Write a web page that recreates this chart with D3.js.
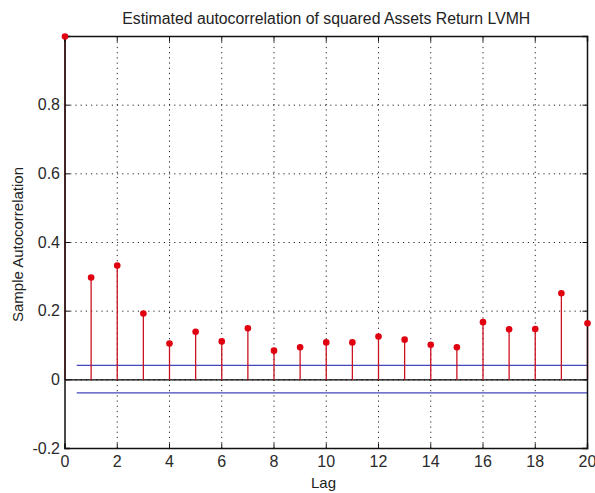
<!DOCTYPE html>
<html>
<head>
<meta charset="utf-8">
<script src="https://cdn.jsdelivr.net/npm/d3@7"></script>
<style>
  body { margin: 0; background: #fff; }
  text { font-family: "Liberation Sans", Arial, sans-serif; fill: #222; }
</style>
</head>
<body>
<div id="chart"></div>
<script>
// lags and sample autocorrelation values
var lags = [0, 1, 2, 3, 4, 5, 6, 7, 8, 9, 10, 11, 12, 13, 14, 15, 16, 17, 18, 19, 20];
var acf = [1, 0.298, 0.333, 0.193, 0.106, 0.140, 0.112, 0.150, 0.085, 0.095, 0.109,
           0.109, 0.126, 0.117, 0.102, 0.095, 0.168, 0.147, 0.148, 0.252, 0.165];
var bounds = [0.042, -0.038];
var boundsLag = [0.45, 20];
var xTickValues = [0, 2, 4, 6, 8, 10, 12, 14, 16, 18, 20];
var yTickValues = [-0.2, 0, 0.2, 0.4, 0.6, 0.8];

var width = 595, height = 493;
// plot box edges (note: "top" is reserved by window, so use plot* names)
var plotLeft = 65, plotRight = 587.5, plotTop = 36.5, plotBottom = 448.5;

var svg = d3.select("#chart").append("svg")
    .attr("width", width)
    .attr("height", height);

var x = d3.scaleLinear().domain([0, 20]).range([plotLeft, plotRight]);
var y = d3.scaleLinear().domain([-0.2, 1]).range([plotBottom, plotTop]);

// dotted grid
var grid = svg.append("g");
grid.selectAll(".gx")
    .data(xTickValues.filter(d => d > 0 && d < 20))
    .enter().append("line")
        .attr("x1", d => x(d)).attr("x2", d => x(d))
        .attr("y1", plotTop).attr("y2", plotBottom)
        .style("stroke", "#222").style("stroke-width", 1)
        .style("stroke-dasharray", "1.2,4");
grid.selectAll(".gy")
    .data(yTickValues.filter(d => d > -0.2))
    .enter().append("line")
        .attr("x1", plotLeft).attr("x2", plotRight)
        .attr("y1", d => y(d)).attr("y2", d => y(d))
        .style("stroke", "#222").style("stroke-width", 1)
        .style("stroke-dasharray", "1.2,4");

// zero line
svg.append("line")
    .attr("x1", x(0)).attr("x2", x(20))
    .attr("y1", y(0)).attr("y2", y(0))
    .style("stroke", "#000").style("stroke-width", 1.3);

// confidence bounds
svg.selectAll(".bound")
    .data(bounds)
    .enter().append("line")
        .attr("x1", x(boundsLag[0])).attr("x2", x(boundsLag[1]))
        .attr("y1", d => y(d)).attr("y2", d => y(d))
        .style("stroke", "#4444bb").style("stroke-width", 1.3);

// stems
svg.selectAll(".stem")
    .data(lags)
    .enter().append("line")
        .attr("x1", d => x(d)).attr("x2", d => x(d))
        .attr("y1", y(0)).attr("y2", (d, i) => y(acf[i]))
        .style("stroke", "#cc1122").style("stroke-width", 1.3);

// axes with inward ticks, like matlab (drawn over the lag 0 stem)
var xAxis = d3.axisBottom(x).tickValues(xTickValues).tickSize(-5).tickPadding(7).offset(0);
var yAxis = d3.axisLeft(y).tickValues(yTickValues).tickSize(-5).tickPadding(5).offset(0)
    .tickFormat(d => d === 0 ? "0" : d3.format(".1f")(d).replace("\u2212", "-"));

svg.append("g")
    .attr("transform", "translate(0," + plotBottom + ")")
    .call(xAxis);
svg.append("g")
    .attr("transform", "translate(" + plotLeft + ",0)")
    .call(yAxis);
svg.append("g")
    .attr("transform", "translate(0," + plotTop + ")")
    .call(d3.axisTop(x).tickValues(xTickValues).tickSize(-5).tickFormat("").offset(0));
svg.append("g")
    .attr("transform", "translate(" + plotRight + ",0)")
    .call(d3.axisRight(y).tickValues(yTickValues).tickSize(-5).tickFormat("").offset(0));

svg.selectAll(".domain").style("stroke", "#111").style("stroke-width", 1.5);
svg.selectAll(".tick line").style("stroke", "#111");
svg.selectAll(".tick text").style("font-size", "16px").style("fill", "#2a2a2a");

// markers
svg.selectAll(".dot")
    .data(lags)
    .enter().append("circle")
        .attr("cx", d => x(d))
        .attr("cy", (d, i) => y(acf[i]))
        .attr("r", 3.3)
        .style("fill", "#e00010");

// labels
svg.append("text")
    .attr("x", (plotLeft + plotRight) / 2).attr("y", 24)
    .attr("text-anchor", "middle")
    .style("font-size", "15.8px")
    .text("Estimated autocorrelation of squared Assets Return LVMH");

svg.append("text")
    .attr("x", 323.5).attr("y", 488)
    .attr("text-anchor", "middle")
    .style("font-size", "15px")
    .text("Lag");

svg.append("text")
    .attr("transform", "translate(23,244.5) rotate(-90)")
    .attr("text-anchor", "middle")
    .style("font-size", "15px")
    .text("Sample Autocorrelation");
</script>
</body>
</html>
